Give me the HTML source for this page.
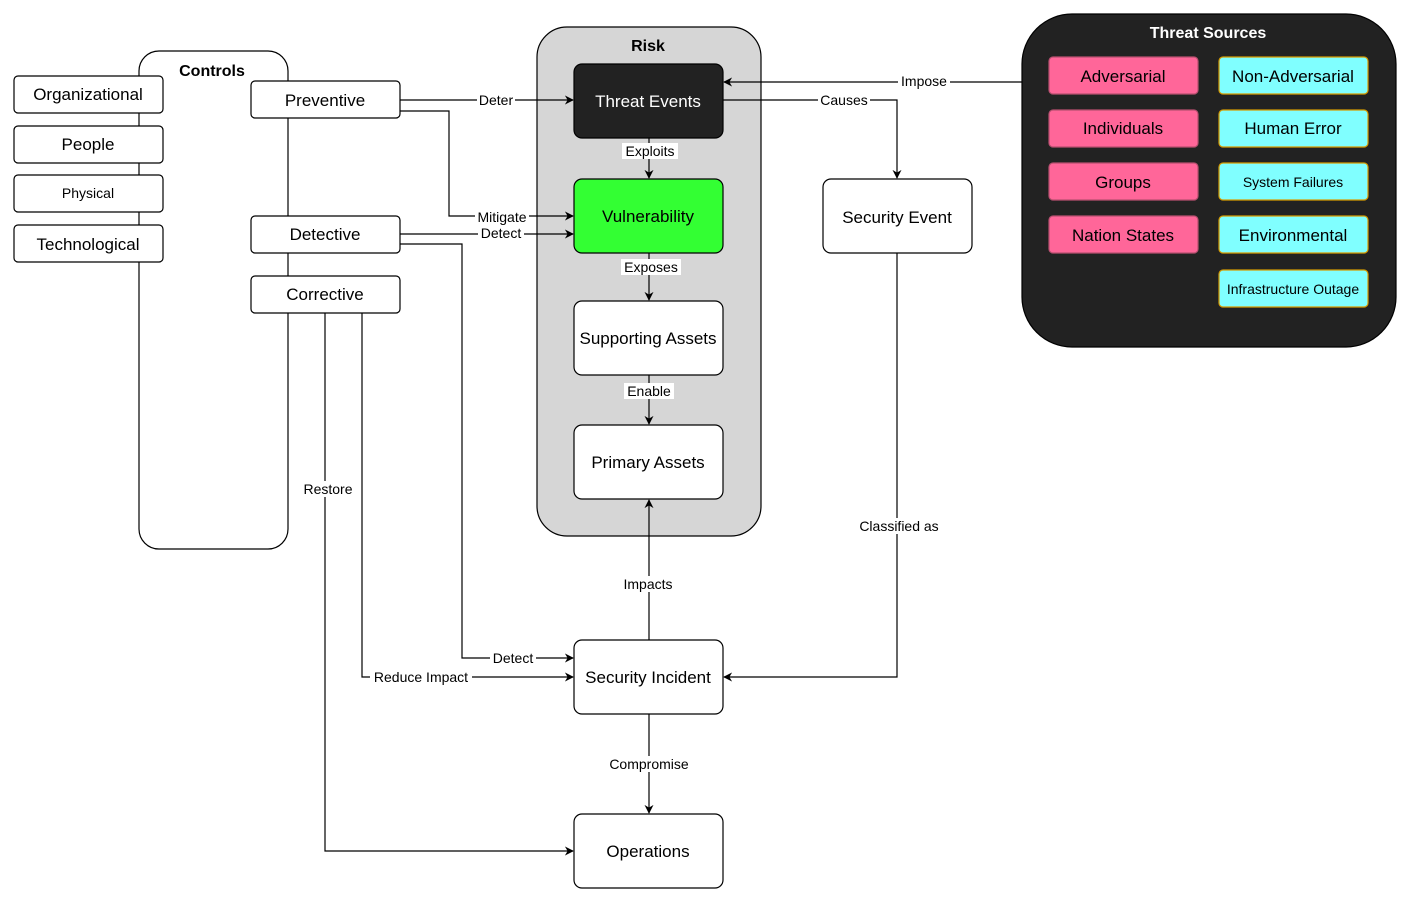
<!DOCTYPE html>
<html><head><meta charset="utf-8"><style>
html,body{margin:0;padding:0;background:#fff;}
svg{display:block;font-family:"Liberation Sans",Arial,sans-serif;}
</style></head><body>
<svg width="1410" height="902" viewBox="0 0 1410 902" xmlns="http://www.w3.org/2000/svg">
<defs>
<marker id="a" viewBox="0 0 10 10" refX="9" refY="5" markerWidth="9" markerHeight="9" orient="auto" markerUnits="userSpaceOnUse"><path d="M0,0 L10,5 L0,10 L3,5 z" fill="#000"/></marker>
</defs>
<!-- Controls container -->
<rect x="139" y="51" width="149" height="498" rx="20" fill="#fff" stroke="#000" stroke-width="1.2"/>
<text x="212" y="76" font-size="16" font-weight="bold" text-anchor="middle">Controls</text>
<!-- Risk container -->
<rect x="537" y="27" width="224" height="509" rx="30" fill="#d6d6d6" stroke="#000" stroke-width="1.2"/>
<text x="648" y="51" font-size="16" font-weight="bold" text-anchor="middle">Risk</text>
<!-- Threat Sources -->
<rect x="1022" y="14" width="374" height="333" rx="50" fill="#222" stroke="#000" stroke-width="1.2"/>
<text x="1208" y="38" font-size="16" font-weight="bold" fill="#fff" text-anchor="middle">Threat Sources</text>

<!-- edges -->
<g fill="none" stroke="#000" stroke-width="1.2">
<path d="M400,100 H573" marker-end="url(#a)"/>
<path d="M400,111 H449 V216 H573" marker-end="url(#a)"/>
<path d="M400,234 H573" marker-end="url(#a)"/>
<path d="M400,244 H462 V658 H573" marker-end="url(#a)"/>
<path d="M362,313 V677 H573" marker-end="url(#a)"/>
<path d="M325,313 V851 H573" marker-end="url(#a)"/>
<path d="M1022,82 H724" marker-end="url(#a)"/>
<path d="M723,100 H897 V178" marker-end="url(#a)"/>
<path d="M897,253 V677 H724" marker-end="url(#a)"/>
<path d="M649,138 V178" marker-end="url(#a)"/>
<path d="M649,253 V300" marker-end="url(#a)"/>
<path d="M649,375 V424" marker-end="url(#a)"/>
<path d="M649,640 V500" marker-end="url(#a)"/>
<path d="M649,714 V813" marker-end="url(#a)"/>
</g>

<!-- edge labels -->
<g font-size="14" text-anchor="middle">
<rect x="477" y="92" width="38" height="16" fill="#fff"/><text x="496" y="105">Deter</text>
<rect x="475" y="209" width="54" height="16" fill="#fff"/><text x="502" y="222">Mitigate</text>
<rect x="478" y="226" width="46" height="15" fill="#fff"/><text x="501" y="238">Detect</text>
<rect x="490" y="650" width="46" height="16" fill="#fff"/><text x="513" y="663">Detect</text>
<rect x="370" y="669" width="102" height="16" fill="#fff"/><text x="421" y="682">Reduce Impact</text>
<rect x="300" y="481" width="56" height="16" fill="#fff"/><text x="328" y="494">Restore</text>
<rect x="898" y="73" width="52" height="16" fill="#fff"/><text x="924" y="86">Impose</text>
<rect x="818" y="92" width="52" height="16" fill="#fff"/><text x="844" y="105">Causes</text>
<rect x="855" y="518" width="88" height="16" fill="#fff"/><text x="899" y="531">Classified as</text>
<rect x="622" y="143" width="56" height="16" fill="#fff"/><text x="650" y="156">Exploits</text>
<rect x="621" y="259" width="60" height="16" fill="#fff"/><text x="651" y="272">Exposes</text>
<rect x="624" y="383" width="50" height="16" fill="#fff"/><text x="649" y="396">Enable</text>
<rect x="619" y="576" width="58" height="16" fill="#fff"/><text x="648" y="589">Impacts</text>
<rect x="604" y="756" width="90" height="16" fill="#fff"/><text x="649" y="769">Compromise</text>
</g>

<!-- control boxes -->
<g stroke="#000" stroke-width="1.2" fill="#fff">
<rect x="14" y="76" width="149" height="37" rx="4"/>
<rect x="14" y="126" width="149" height="37" rx="4"/>
<rect x="14" y="175" width="149" height="37" rx="4"/>
<rect x="14" y="225" width="149" height="37" rx="4"/>
<rect x="251" y="81" width="149" height="37" rx="4"/>
<rect x="251" y="216" width="149" height="37" rx="4"/>
<rect x="251" y="276" width="149" height="37" rx="4"/>
<rect x="574" y="64" width="149" height="74" rx="8" fill="#222"/>
<rect x="574" y="179" width="149" height="74" rx="8" fill="#33ff33"/>
<rect x="574" y="301" width="149" height="74" rx="8"/>
<rect x="574" y="425" width="149" height="74" rx="8"/>
<rect x="823" y="179" width="149" height="74" rx="8"/>
<rect x="574" y="640" width="149" height="74" rx="8"/>
<rect x="574" y="814" width="149" height="74" rx="8"/>
</g>
<g stroke-width="1.2">
<rect x="1049" y="57" width="149" height="37" rx="4" fill="#ff6699" stroke="#b85070"/>
<rect x="1049" y="110" width="149" height="37" rx="4" fill="#ff6699" stroke="#b85070"/>
<rect x="1049" y="163" width="149" height="37" rx="4" fill="#ff6699" stroke="#b85070"/>
<rect x="1049" y="216" width="149" height="37" rx="4" fill="#ff6699" stroke="#b85070"/>
<rect x="1219" y="57" width="149" height="37" rx="4" fill="#80ffff" stroke="#d79b00"/>
<rect x="1219" y="110" width="149" height="37" rx="4" fill="#80ffff" stroke="#d79b00"/>
<rect x="1219" y="163" width="149" height="37" rx="4" fill="#80ffff" stroke="#d79b00"/>
<rect x="1219" y="216" width="149" height="37" rx="4" fill="#80ffff" stroke="#d79b00"/>
<rect x="1219" y="270" width="149" height="37" rx="4" fill="#80ffff" stroke="#d79b00"/>
</g>

<g font-size="17" text-anchor="middle">
<text x="88" y="100">Organizational</text>
<text x="88" y="150">People</text>
<text x="88" y="198" font-size="14">Physical</text>
<text x="88" y="250">Technological</text>
<text x="325" y="106">Preventive</text>
<text x="325" y="240">Detective</text>
<text x="325" y="300">Corrective</text>
<text x="648" y="107" fill="#fff">Threat Events</text>
<text x="648" y="222">Vulnerability</text>
<text x="648" y="344">Supporting Assets</text>
<text x="648" y="468">Primary Assets</text>
<text x="897" y="223">Security Event</text>
<text x="648" y="683">Security Incident</text>
<text x="648" y="857">Operations</text>
<text x="1123" y="82">Adversarial</text>
<text x="1123" y="134">Individuals</text>
<text x="1123" y="188">Groups</text>
<text x="1123" y="241">Nation States</text>
<text x="1293" y="82">Non-Adversarial</text>
<text x="1293" y="134">Human Error</text>
<text x="1293" y="187" font-size="14">System Failures</text>
<text x="1293" y="241">Environmental</text>
<text x="1293" y="294" font-size="14">Infrastructure Outage</text>
</g>
</svg>
</body></html>
